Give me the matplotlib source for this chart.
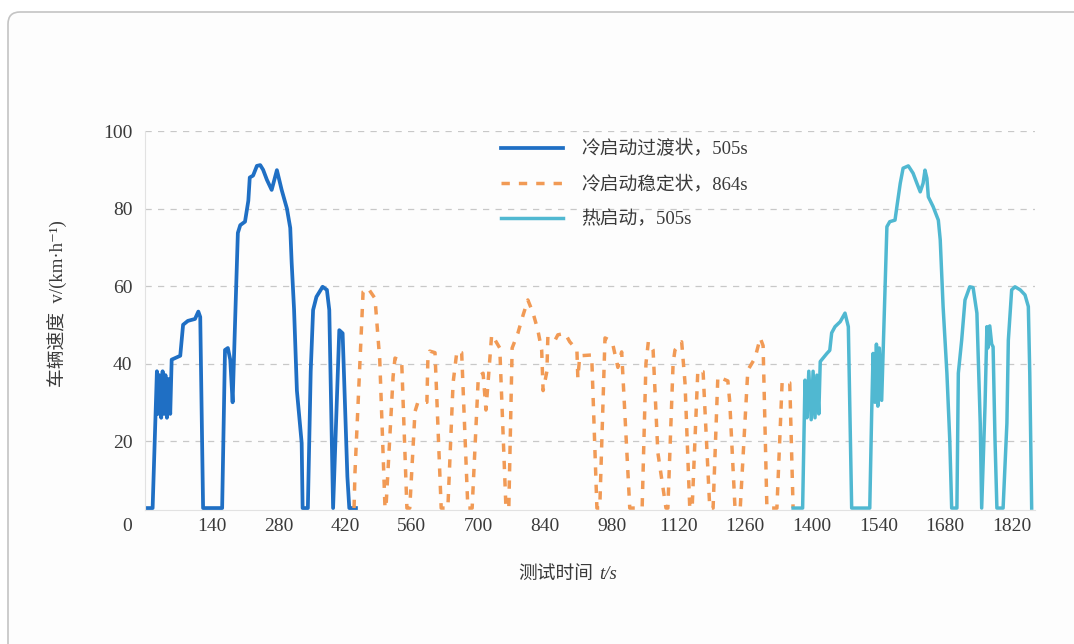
import matplotlib
matplotlib.use("Agg")
import matplotlib.pyplot as plt
from matplotlib.patches import FancyBboxPatch
from matplotlib.transforms import IdentityTransform

plt.rcParams['font.family'] = ['Liberation Serif', 'Noto Sans CJK SC', 'DejaVu Sans']

# 冷启动过渡状 (s, km/h)
t_cold = [0, 16, 25, 27, 30, 34, 37, 40, 43, 46,
          49, 53, 56, 74, 80, 90, 105, 112, 116, 122,
          162, 168, 174, 179, 184, 191, 195, 200, 210, 217,
          220, 227, 235, 242, 248, 256, 266, 277, 287, 298,
          305, 308, 313, 319, 329, 331, 342, 348, 353, 360,
          373, 382, 387, 395, 408, 415, 425, 429, 443]
v_cold = [2.7, 2.7, 38, 27, 37, 26, 38, 27, 37, 26,
          36, 27, 41, 42, 50, 51, 51.5, 53.4, 52, 2.7,
          2.7, 43.5, 44, 41, 30, 58, 73.7, 75.7, 76.6, 82,
          88, 88.5, 91, 91.2, 90, 87.4, 84.8, 89.9, 84.8, 80,
          75, 66, 54, 33, 19.5, 2.7, 2.7, 38, 53.8, 57.2,
          59.8, 59, 53.8, 2.7, 48.6, 47.8, 10.8, 2.7, 2.7]

# 冷启动稳定状
t_stable = [439, 441, 458, 468, 483, 493, 504, 506, 521, 525,
            539, 550, 556, 567, 573, 592, 594, 598, 609, 622,
            636, 647, 655, 665, 678, 687, 700, 710, 716, 728,
            733, 745, 758, 764, 771, 783, 794, 804, 815, 825,
            833, 836, 844, 846, 861, 867, 882, 892, 907, 909,
            913, 938, 949, 955, 966, 976, 983, 993, 1001, 1018,
            1044, 1052, 1057, 1067, 1077, 1094, 1098, 1109, 1113, 1127,
            1134, 1144, 1149, 1161, 1172, 1186, 1193, 1203, 1224, 1228,
            1239, 1250, 1264, 1266, 1281, 1292, 1298, 1306, 1327, 1338,
            1354, 1361]
v_stable = [2.7, 12, 58.5, 59.5, 56.8, 40.9, 2.7, 2.7, 36.6, 41.4,
            40.6, 2.7, 2.7, 27.6, 30, 30, 40.9, 43.2, 42.8, 2.7,
            2.7, 35, 43.2, 42.8, 2.7, 2.7, 36.6, 37.5, 28, 47.4,
            46.5, 44, 2.7, 2.7, 44, 47.8, 52.5, 56.4, 53, 48.6,
            43.5, 33, 38, 46.9, 46, 47.4, 47.8, 45.6, 43.5, 36.2,
            42, 42.2, 2.7, 2.7, 46.6, 46, 44.6, 39, 43, 2.7,
            2.7, 40, 45.6, 43.5, 17, 2.7, 2.7, 40, 43.5, 45.6,
            35, 2.7, 2.7, 38.3, 37.9, 2.7, 2.7, 36.6, 35.5, 30,
            2.7, 2.7, 34, 38.3, 41.4, 46.6, 44.6, 2.7, 2.7, 35.3,
            35, 2.7]

# 热启动
t_hot = [1361, 1381, 1386, 1390, 1394, 1399, 1403, 1407, 1411, 1415,
         1418, 1432, 1438, 1442, 1449, 1460, 1470, 1477, 1484, 1522,
         1526, 1529, 1533, 1536, 1539, 1542, 1547, 1554, 1558, 1564,
         1575, 1579, 1586, 1592, 1603, 1613, 1621, 1628, 1634, 1638,
         1642, 1645, 1655, 1666, 1670, 1676, 1684, 1690, 1694, 1705,
         1708, 1715, 1722, 1732, 1739, 1747, 1754, 1757, 1764, 1768,
         1770, 1774, 1778, 1781, 1785, 1789, 1802, 1810, 1813, 1820,
         1827, 1838, 1848, 1855, 1858, 1862]
v_hot = [2.7, 2.7, 35.7, 26, 38, 25.5, 38, 26, 37, 27,
         40.5, 42.6, 43.4, 47.9, 49.5, 50.8, 53, 49.5, 2.7, 2.7,
         27.1, 42.6, 30, 45, 29, 44, 30.5, 59, 75.3, 76.6,
         77, 80.5, 86.5, 90.4, 91, 89.1, 86.5, 84.3, 86.5, 89.9,
         87.8, 83, 80.5, 77, 71.9, 54.7, 37.5, 20.3, 2.7, 2.7,
         37.5, 46, 56.4, 59.8, 59.6, 53, 24.6, 2.7, 28.9, 49.5,
         44, 49.7, 45, 44.3, 20.3, 2.7, 2.7, 24.6, 46, 59,
         59.8, 59, 57.7, 54.7, 37.5, 2.7]

x_ticks = [140, 280, 420, 560, 700, 840, 980, 1120, 1260, 1400, 1540, 1680, 1820]
y_ticks = [20, 40, 60, 80, 100]
labels = ['冷启动过渡状，505s', '冷启动稳定状，864s', '热启动，505s']

blauw = '#1f6fc4'
oranje = '#f19a55'
cyaan = '#50b8d1'
tekst = '#3a3a3a'

fig = plt.figure(figsize=(10.74, 6.44), dpi=100)
fig.patch.set_facecolor('white')

# kaart rand, achter de assen
kaart = FancyBboxPatch((8, -20), 1082, 652, boxstyle='round,pad=0,rounding_size=12',
                       transform=IdentityTransform(), facecolor='#fdfdfd',
                       edgecolor='#c4c4c4', linewidth=1.2, zorder=-10)
fig.add_artist(kaart)

ax = fig.add_axes([145 / 1074, 1 - 510 / 644, 890 / 1074, 379 / 644])
ax.set_facecolor('none')

ax.plot(t_cold, v_cold, color=blauw, lw=2.7, solid_joinstyle='round', label=labels[0])
ax.plot(t_stable, v_stable, color=oranje, lw=2.5, dashes=(2.4, 2.6), label=labels[1])
ax.plot(t_hot, v_hot, color=cyaan, lw=2.5, solid_joinstyle='round', label=labels[2])

ax.set_xlim(0, 1869)
ax.set_ylim(2.2, 100)
ax.set_xticks(x_ticks)
ax.set_xticklabels([str(x) for x in x_ticks])
ax.set_yticks(y_ticks)
ax.tick_params(axis='both', length=0, labelsize=14, colors=tekst)
ax.tick_params(axis='x', pad=6)
ax.tick_params(axis='y', pad=9)

ax.yaxis.grid(True, color='#c8c8c8', linestyle=(0, (5, 5)), linewidth=0.9)
ax.set_axisbelow(True)
for kant in ['top', 'right']:
    ax.spines[kant].set_visible(False)
ax.spines['left'].set_color('#e2e2e2')
ax.spines['bottom'].set_color('#e2e2e2')

# losse 0 onder de as
ax.annotate('0', xy=(-38, 0), xycoords=ax.get_xaxis_transform(), xytext=(0, -6),
            textcoords='offset points', ha='center', va='top', fontsize=14, color=tekst,
            annotation_clip=False)

ax.set_ylabel('车辆速度  v/(km·h⁻¹)', fontsize=13.5, color=tekst)
ax.yaxis.set_label_coords(-0.087, 0.546)

# x-as titel: chinees + cursief t/s
fig.text(593 / 1074, 1 - 579 / 644, '测试时间', ha='right', va='baseline',
         fontsize=13.5, color=tekst, family=['Noto Sans CJK SC'])
fig.text(599 / 1074, 1 - 579 / 644, 't/s', ha='left', va='baseline',
         fontsize=13.5, color=tekst, style='italic', family=['Liberation Serif'])

leg = ax.legend(loc='upper left', bbox_to_anchor=(0.39, 1.0), frameon=False, fontsize=13.5,
                handlelength=3.3, handletextpad=0.95, labelspacing=0.92, borderpad=0)
for t in leg.get_texts():
    t.set_color(tekst)

fig.savefig('out.png', dpi=100)
